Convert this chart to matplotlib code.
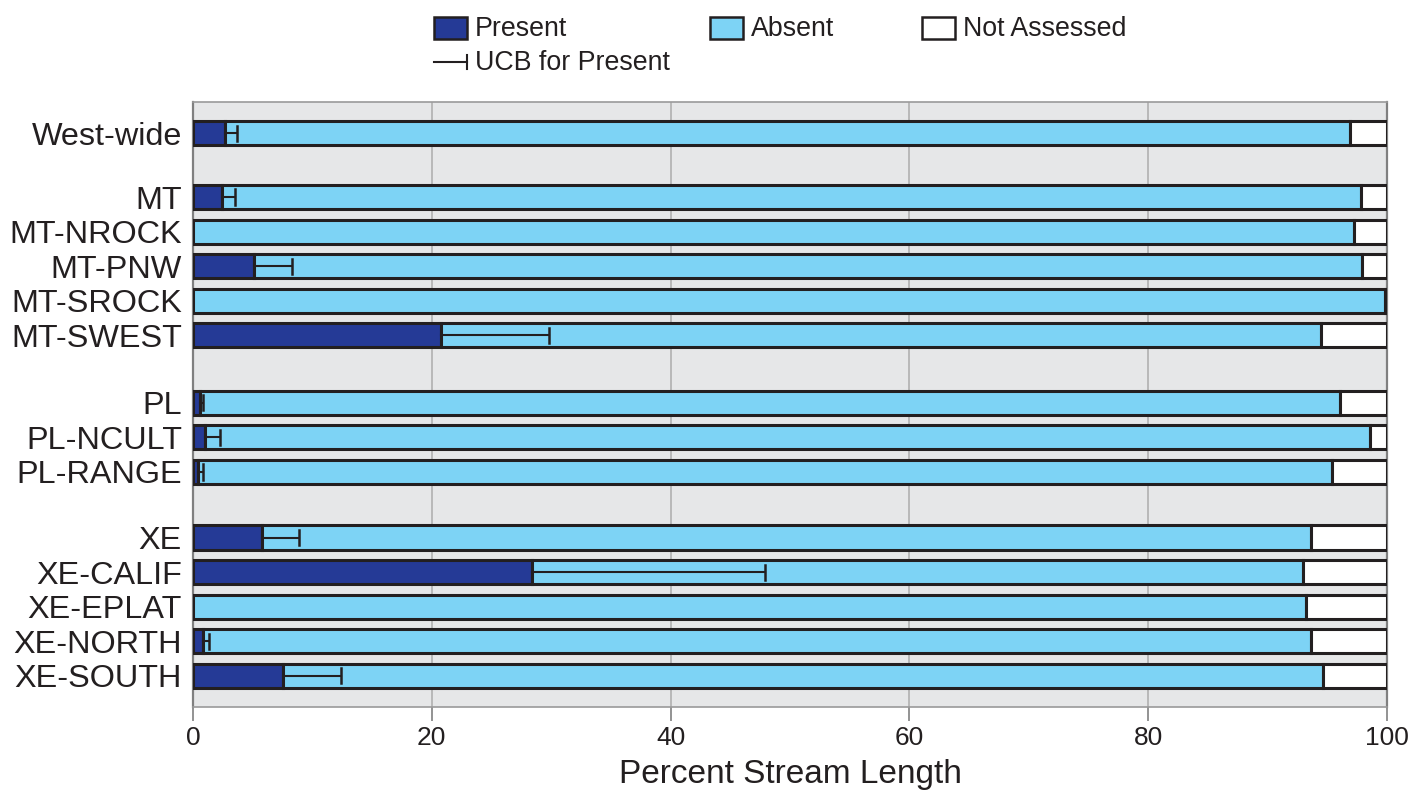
import matplotlib
matplotlib.use("Agg")
import matplotlib.pyplot as plt
from matplotlib.patches import Rectangle
from matplotlib.lines import Line2D

plt.rcParams['font.family'] = ['Liberation Sans', 'DejaVu Sans']

categories = ["West-wide", "MT", "MT-NROCK", "MT-PNW", "MT-SROCK", "MT-SWEST",
              "PL", "PL-NCULT", "PL-RANGE",
              "XE", "XE-CALIF", "XE-EPLAT", "XE-NORTH", "XE-SOUTH"]
present = [2.7, 2.4, 0.0, 5.1, 0.0, 20.8, 0.6, 1.0, 0.4, 5.8, 28.4, 0.0, 0.8, 7.5]
ucb = [3.7, 3.5, None, 8.3, None, 29.8, 0.8, 2.3, 0.8, 8.9, 47.9, None, 1.3, 12.4]
absent_end = [96.9, 97.8, 97.2, 97.9, 99.8, 94.5, 96.1, 98.6, 95.4, 93.6, 93.0, 93.2, 93.6, 94.6]
xticks = [0, 20, 40, 60, 80, 100]

positions = [0, 1.85, 2.85, 3.85, 4.85, 5.85, 7.8, 8.8, 9.8, 11.7, 12.7, 13.7, 14.7, 15.7]

c_present = "#253a96"
c_absent = "#7dd3f5"
c_bg = "#e6e7e8"
edge = "#231f20"

fig = plt.figure(figsize=(14.1, 7.92), dpi=100)
ax = fig.add_axes([193/1410, 1-707/792, (1387-193)/1410, (707-102)/792])
ax.set_facecolor(c_bg)

h = 0.70
absent_w = [a - p for a, p in zip(absent_end, present)]
na_w = [100 - a for a in absent_end]
ax.barh(positions, present, height=h, color=c_present, edgecolor=edge, linewidth=2.2, zorder=3)
ax.barh(positions, absent_w, left=present, height=h, color=c_absent, edgecolor=edge, linewidth=2.2, zorder=3)
ax.barh(positions, na_w, left=absent_end, height=h, color="white", edgecolor=edge, linewidth=2.2, zorder=3)

for y, p, u in zip(positions, present, ucb):
    if u is None:
        continue
    ax.plot([p, u], [y, y], color=edge, lw=1.5, zorder=4)
    ax.plot([u, u], [y - 0.22, y + 0.22], color=edge, lw=1.8, zorder=4)

ax.set_xlim(0, 100)
ax.set_ylim(16.6, -0.9)
ax.set_yticks(positions)
ax.set_yticklabels(categories, fontsize=23.3, color="#231f20")
ax.tick_params(axis='y', length=0, pad=8)
ax.set_xticks(xticks)
ax.set_xticklabels([str(t) for t in xticks], fontsize=19, color="#231f20")
ax.tick_params(axis='x', length=10, color="#808080", width=1.2, pad=4)
ax.xaxis.grid(True, color="#b0b0b0", lw=1.2, zorder=1)
ax.set_axisbelow(True)
for s in ["top", "bottom"]:
    ax.spines[s].set_color("#9a9a9a")
    ax.spines[s].set_linewidth(1.2)
for s in ["left", "right"]:
    ax.spines[s].set_color("#808080")
    ax.spines[s].set_linewidth(1.6)
ax.set_xlabel("Percent Stream Length", fontsize=24, color="#231f20", labelpad=6.5)

# legend drawn in figure pixel coordinates
def px(x, y):
    return x / 1410, 1 - y / 792

def box(x0, color, label):
    bx, by = px(x0, 39)
    fig.patches.append(Rectangle((bx, by), 33/1410, 22/792, transform=fig.transFigure,
                                 facecolor=color, edgecolor=edge, lw=1.8))
    tx, ty = px(x0 + 41, 29)
    fig.text(tx, ty, label, fontsize=19.3, va="center", ha="left", color="#231f20")

box(434, c_present, "Present")
box(710, c_absent, "Absent")
box(922, "white", "Not Assessed")
x1, y1 = px(434, 62)
x2, _ = px(467, 62)
fig.add_artist(Line2D([x1, x2], [y1, y1], transform=fig.transFigure, color=edge, lw=1.5))
_, ya = px(0, 55)
_, yb = px(0, 69)
fig.add_artist(Line2D([x2, x2], [ya, yb], transform=fig.transFigure, color=edge, lw=1.5))
tx, ty = px(475, 63)
fig.text(tx, ty, "UCB for Present", fontsize=19.3, va="center", ha="left", color="#231f20")

fig.savefig("out.png", dpi=100)
